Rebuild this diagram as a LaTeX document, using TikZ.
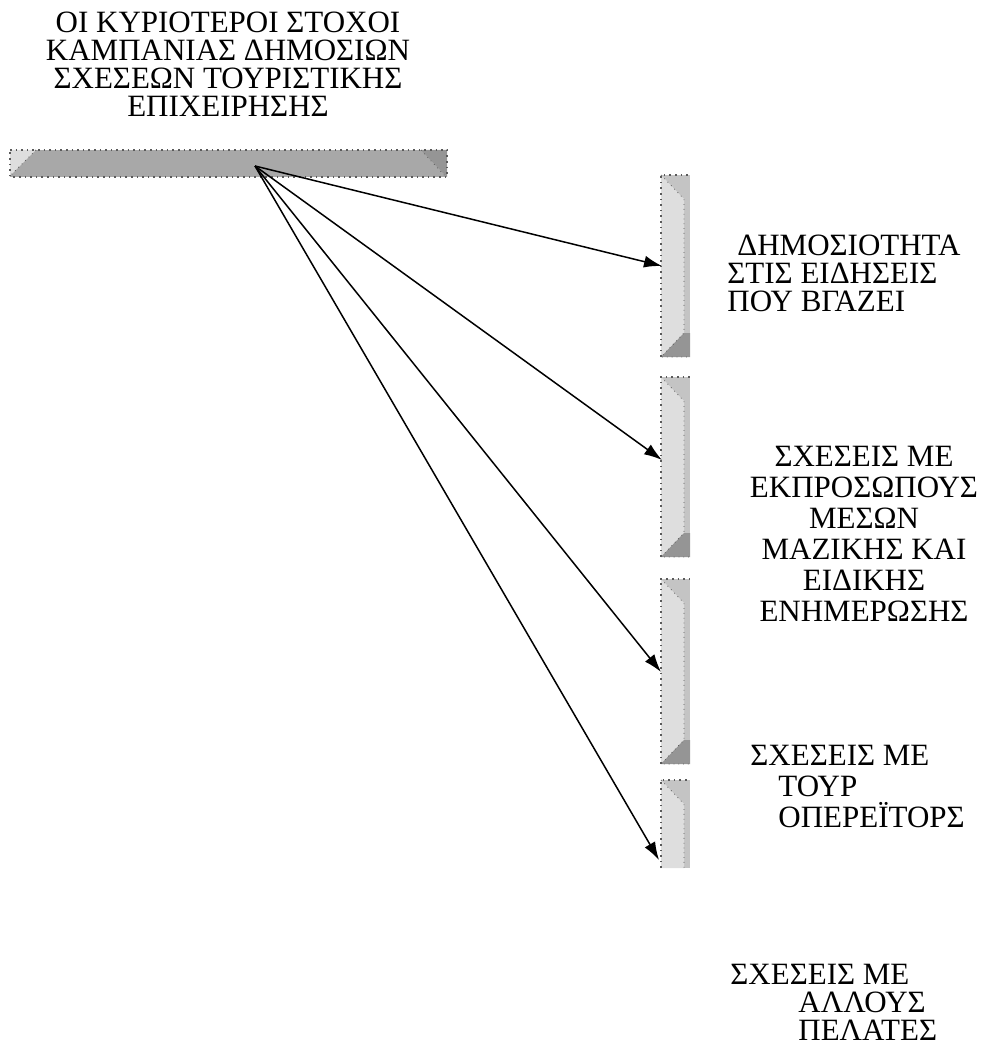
\documentclass[tikz,border=0pt]{standalone}
\usepackage{fontspec}
\setmainfont{Liberation Serif}
\usetikzlibrary{arrows.meta}

\definecolor{barlight}{HTML}{DEDEDE}
\definecolor{barmid}{HTML}{C4C4C4}
\definecolor{barmain}{HTML}{A8A8A8}
\definecolor{bardark}{HTML}{959595}
\definecolor{barline}{HTML}{5A5A5A}

\tikzset{
  goaltext/.style={inner sep=0pt, font=\fontsize{15.5}{14}\selectfont},
  link/.style={-{Latex[length=9pt,width=6pt]}, line width=0.75pt, black}
}

% one vertical bar: #1 top, #2 bottom
\newcommand{\sidebar}[2]{%
  \fill[barmid] (661,#1) rectangle (690,#2);
  \fill[barlight] (661,#1) -- (684,#1+24) -- (684,#2-24) -- (661,#2) -- cycle;
  \fill[bardark] (661,#2) -- (684,#2-24) -- (690,#2-24) -- (690,#2) -- cycle;
  \draw[barline, dotted, thick] (661,#2) -- (661,#1) -- (690,#1);
  \draw[barline, dotted] (661,#1) -- (684,#1+24) -- (684,#2-24) -- (661,#2) -- (690,#2);
}

\begin{document}
\begin{tikzpicture}[x=0.5pt, y=-0.5pt]
  \useasboundingbox (0,0) rectangle (986,1064);

  % title and top bar
  \node[goaltext, anchor=north, align=center] (title) at (228,12)
    {ΟΙ ΚΥΡΙΟΤΕΡΟΙ ΣΤΟΧΟΙ\\ΚΑΜΠΑΝΙΑΣ ΔΗΜΟΣΙΩΝ\\ΣΧΕΣΕΩΝ ΤΟΥΡΙΣΤΙΚΗΣ\\ΕΠΙΧΕΙΡΗΣΗΣ};
  \fill[barmain] (10,150) rectangle (447,177);
  \fill[barlight] (10,150) -- (36,150) -- (10,176) -- cycle;
  \fill[bardark] (421,150) -- (447,150) -- (447,177) -- cycle;
  \draw[barline, dotted, thick] (10,150) -- (447,150) -- (447,177) -- (10,177) -- cycle;
  \draw[barline, dotted] (36,150) -- (10,176) (421,150) -- (445,176);

  % bars on the right
  \sidebar{175}{357}
  \sidebar{377}{557}
  \sidebar{579}{764}
  \fill[barmid] (661,780) rectangle (690,868);
  \fill[barlight] (661,780) -- (684,804) -- (684,868) -- (661,868) -- cycle;
  \draw[barline, dotted, thick] (661,868) -- (661,780) -- (690,780);
  \draw[barline, dotted] (661,780) -- (684,804) -- (684,868);

  % texts
  \node[goaltext, anchor=north west, align=left] (txtnews) at (727,235)
    {\hspace*{5pt}ΔΗΜΟΣΙΟΤΗΤΑ\\ΣΤΙΣ ΕΙΔΗΣΕΙΣ\\ΠΟΥ ΒΓΑΖΕΙ};
  \node[goaltext, anchor=north, align=center, font=\fontsize{15.5}{15.5}\selectfont] (txtmedia) at (864,446)
    {ΣΧΕΣΕΙΣ ΜΕ\\ΕΚΠΡΟΣΩΠΟΥΣ\\ΜΕΣΩΝ\\ΜΑΖΙΚΗΣ ΚΑΙ\\ΕΙΔΙΚΗΣ\\ΕΝΗΜΕΡΩΣΗΣ};
  \node[goaltext, anchor=north west, align=left, font=\fontsize{15.5}{15.5}\selectfont] (txttour) at (750,745)
    {ΣΧΕΣΕΙΣ ΜΕ\\\hspace*{14pt}ΤΟΥΡ\\\hspace*{14pt}ΟΠΕΡΕΪΤΟΡΣ};
  \node[goaltext, anchor=north west, align=left] (txtclients) at (730,964)
    {ΣΧΕΣΕΙΣ ΜΕ\\\hspace*{34pt}ΑΛΛΟΥΣ\\\hspace*{34pt}ΠΕΛΑΤΕΣ};

  % arrows
  \coordinate (hub) at (255,166);
  \coordinate (news) at (662,266);
  \coordinate (media) at (662,460);
  \coordinate (tour) at (661,672);
  \coordinate (clients) at (659,860);
  \draw[link] (hub) -- (news);
  \draw[link] (hub) -- (media);
  \draw[link] (hub) -- (tour);
  \draw[link] (hub) -- (clients);
\end{tikzpicture}
\end{document}
